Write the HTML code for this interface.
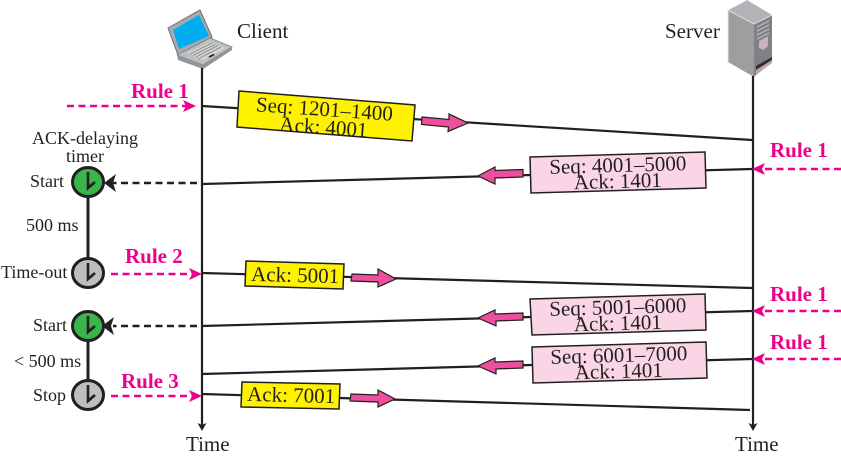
<!DOCTYPE html>
<html><head><meta charset="utf-8"><style>
html,body{margin:0;padding:0;background:#fff}
svg{display:block}
text{font-family:"Liberation Serif",serif;fill:#231f20}
.r{font-weight:bold;fill:#ec008c;font-size:21px}
.m{font-size:21px;text-anchor:middle}
.s{font-size:18px}
.l{stroke:#231f20;stroke-width:2.2;fill:none}
.b{stroke:#231f20;stroke-width:1.5}
.a{fill:#ee4f9c;stroke:#231f20;stroke-width:1.2}
.p{stroke:#ec008c;stroke-width:2.6;stroke-dasharray:7 4.500;fill:none}
.k{stroke:#231f20;stroke-width:2.6;stroke-dasharray:7 4.500;fill:none}
</style></head><body>
<svg width="841" height="459" viewBox="0 0 841 459" xmlns="http://www.w3.org/2000/svg">
<rect width="841" height="459" fill="#fff"/>
<!-- laptop -->
<polygon points="168,28 200,10 212,37 178,55" fill="#a7a9ac" stroke="#6d6e71" stroke-width="1"/>
<polygon points="173,30 199,15 209,36 179,49" fill="#00aeef"/>
<polygon points="177,55 210,38 232,47 203,65" fill="#bcbec0" stroke="#808285" stroke-width="0.8"/>
<polygon points="187,53 210,42 226,48 203,60" fill="#d1d3d4"/>
<g stroke="#808285" stroke-width="0.8" fill="none">
<line x1="190" y1="54" x2="212" y2="43"/>
<line x1="193" y1="55.500" x2="215" y2="44.500"/>
<line x1="196" y1="57" x2="218" y2="45.500"/>
<line x1="199" y1="58.500" x2="221" y2="47"/>
</g>
<line x1="209" y1="57" x2="214" y2="54.500" stroke="#231f20" stroke-width="1.6"/>
<polygon points="177,55 203,65 232,47 232,50 203,69 178,60" fill="#939598"/>
<!-- server -->
<polygon points="728,10 747,0 772,15 754,24" fill="#b1b3b6"/>
<polygon points="728,10 754,24 754,77 728,62" fill="#9d9ea0"/>
<polygon points="754,24 772,15 772,60 754,77" fill="#808184"/>
<polyline points="728,62 728,10 747,0" fill="none" stroke="#e6e7e8" stroke-width="0.9"/>
<polyline points="728,10 754,24 772,15" fill="none" stroke="#e6e7e8" stroke-width="0.9"/>
<g stroke="#bcbec0" stroke-width="1.200">
<line x1="757" y1="27" x2="769" y2="21"/>
<line x1="757" y1="31" x2="769" y2="25"/>
<line x1="757" y1="35" x2="769" y2="29"/>
<line x1="757" y1="39" x2="769" y2="33"/>
</g>
<polygon points="759,41 768,36 768,46 763.500,50 759,48" fill="#c7b2bd"/>
<polygon points="756,66 772,57 772,60 756,70" fill="#2f2f31"/>
<polygon points="756,70 772,60 772,63 756,75" fill="#bfa3b2"/>
<!-- lifelines -->
<line class="l" x1="202" y1="68" x2="202" y2="425"/>
<polygon points="197.500,423 202,431 206.500,423 202,425" fill="#231f20"/>
<line class="l" x1="753" y1="76" x2="753" y2="425"/>
<polygon points="748.500,423 753,431 757.500,423 753,425" fill="#231f20"/>
<!-- lines -->
<line class="l" x1="202" y1="106" x2="752" y2="140"/>
<line class="l" x1="202" y1="184" x2="752" y2="169"/>
<line class="l" x1="202" y1="273" x2="752" y2="288"/>
<line class="l" x1="202" y1="326" x2="752" y2="311"/>
<line class="l" x1="202" y1="374" x2="752" y2="359"/>
<line class="l" x1="202" y1="394" x2="750" y2="410"/>
<!-- boxes -->
<polygon class="b" points="239,91 415,105 412,141 237,127" fill="#fff200"/>
<polygon class="b" points="530,157 705,152 706,188 531,193" fill="#f9d5e5"/>
<polygon class="b" points="246,261 344,264 343,289 245,286" fill="#fff200"/>
<polygon class="b" points="530,299 705,294 706,330 532,335" fill="#f9d5e5"/>
<polygon class="b" points="532,347 706,342 707,378 533,383" fill="#f9d5e5"/>
<polygon class="b" points="242,382 340,384 339,409 241,407" fill="#fff200"/>
<!-- box text -->
<text class="m" x="324" y="116" transform="rotate(4 324 116)">Seq: 1201–1400</text>
<text class="m" x="323" y="134" transform="rotate(4 323 134)">Ack: 4001</text>
<text class="m" x="618" y="172" transform="rotate(-1.6 618 172)">Seq: 4001–5000</text>
<text class="m" x="618" y="188" transform="rotate(-1.6 618 188)">Ack: 1401</text>
<text class="m" x="295" y="282" transform="rotate(1.5 295 282)">Ack: 5001</text>
<text class="m" x="618" y="314" transform="rotate(-1.6 618 314)">Seq: 5001–6000</text>
<text class="m" x="618" y="330" transform="rotate(-1.6 618 330)">Ack: 1401</text>
<text class="m" x="619" y="362" transform="rotate(-1.6 619 362)">Seq: 6001–7000</text>
<text class="m" x="619" y="378" transform="rotate(-1.6 619 378)">Ack: 1401</text>
<text class="m" x="291" y="402" transform="rotate(1.5 291 402)">Ack: 7001</text>
<!-- pink block arrows -->
<polygon class="a" points="422,117 449,119.500 449,114 468,123 448,131.500 448.500,127 421.500,124.500"/>
<polygon class="a" points="523,169.500 495,170.500 495,167 478,176 495,184 495,178 523,177"/>
<polygon class="a" points="352,274 378,275 378,269 396,279 378,287 378,282 351,281"/>
<polygon class="a" points="523,313 495,314 495,310 478,318 496,326 496,321 523,320"/>
<polygon class="a" points="523,361 495,362 495,358 478,366 496,374 496,369 523,368"/>
<polygon class="a" points="351,394 378,395 378,390 395,399 378,407 378,402 350,401"/>
<!-- rule arrows -->
<line class="p" x1="67" y1="106" x2="186" y2="106"/>
<polygon points="183,100 196,106 183,112 186,106" fill="#ec008c"/>
<line class="p" x1="841" y1="169" x2="764" y2="169"/>
<polygon points="765,163 752,169 765,175 762,169" fill="#ec008c"/>
<line class="p" x1="841" y1="311" x2="764" y2="311"/>
<polygon points="765,305 752,311 765,317 762,311" fill="#ec008c"/>
<line class="p" x1="841" y1="359" x2="764" y2="359"/>
<polygon points="765,353 752,359 765,365 762,359" fill="#ec008c"/>
<line class="p" x1="111" y1="274" x2="192" y2="274"/>
<polygon points="189,268 202,274 189,280 192,274" fill="#ec008c"/>
<line class="p" x1="111" y1="396" x2="192" y2="396"/>
<polygon points="189,390 202,396 189,402 192,396" fill="#ec008c"/>
<!-- black dashed -->
<line class="k" x1="197" y1="183" x2="113" y2="183"/>
<line class="k" x1="197" y1="326" x2="113" y2="326"/>
<!-- timer -->
<line x1="88" y1="182" x2="88" y2="273" stroke="#231f20" stroke-width="3"/>
<line x1="88" y1="326" x2="88" y2="395" stroke="#231f20" stroke-width="3"/>
<ellipse cx="88" cy="182" rx="15.500" ry="14.500" fill="#39b54a" stroke="#231f20" stroke-width="3"/>
<ellipse cx="88" cy="273" rx="15.500" ry="14.500" fill="#bcbec0" stroke="#231f20" stroke-width="3"/>
<ellipse cx="88" cy="326" rx="15.500" ry="14.500" fill="#39b54a" stroke="#231f20" stroke-width="3"/>
<ellipse cx="88" cy="395" rx="15.500" ry="14.500" fill="#bcbec0" stroke="#231f20" stroke-width="3"/>
<polyline points="88,172 88,188 95,182" fill="none" stroke="#231f20" stroke-width="2.600"/>
<polyline points="88,263 88,279 95,273" fill="none" stroke="#231f20" stroke-width="2.600"/>
<polyline points="88,316 88,332 95,326" fill="none" stroke="#231f20" stroke-width="2.600"/>
<polyline points="88,385 88,401 95,395" fill="none" stroke="#231f20" stroke-width="2.600"/>
<polygon points="116,174 104,183 116,192 113,183" fill="#231f20"/>
<polygon points="114,317 102,326 114,335 111,326" fill="#231f20"/>
<!-- labels -->
<text x="237" y="38" font-size="21">Client</text>
<text x="665" y="38" font-size="21">Server</text>
<text class="r" x="131" y="98">Rule 1</text>
<text class="r" x="770" y="157">Rule 1</text>
<text class="r" x="770" y="301">Rule 1</text>
<text class="r" x="770" y="349">Rule 1</text>
<text class="r" x="125" y="263">Rule 2</text>
<text class="r" x="121" y="388">Rule 3</text>
<text class="s" x="32" y="144">ACK-delaying</text>
<text class="s" x="66" y="162">timer</text>
<text class="s" x="30" y="187">Start</text>
<text class="s" x="26" y="231">500 ms</text>
<text class="s" x="1" y="278">Time-out</text>
<text class="s" x="33" y="331">Start</text>
<text class="s" x="14" y="367">&lt; 500 ms</text>
<text class="s" x="33" y="401">Stop</text>
<text x="186" y="451" font-size="21">Time</text>
<text x="735" y="451" font-size="21">Time</text>
</svg>
</body></html>
